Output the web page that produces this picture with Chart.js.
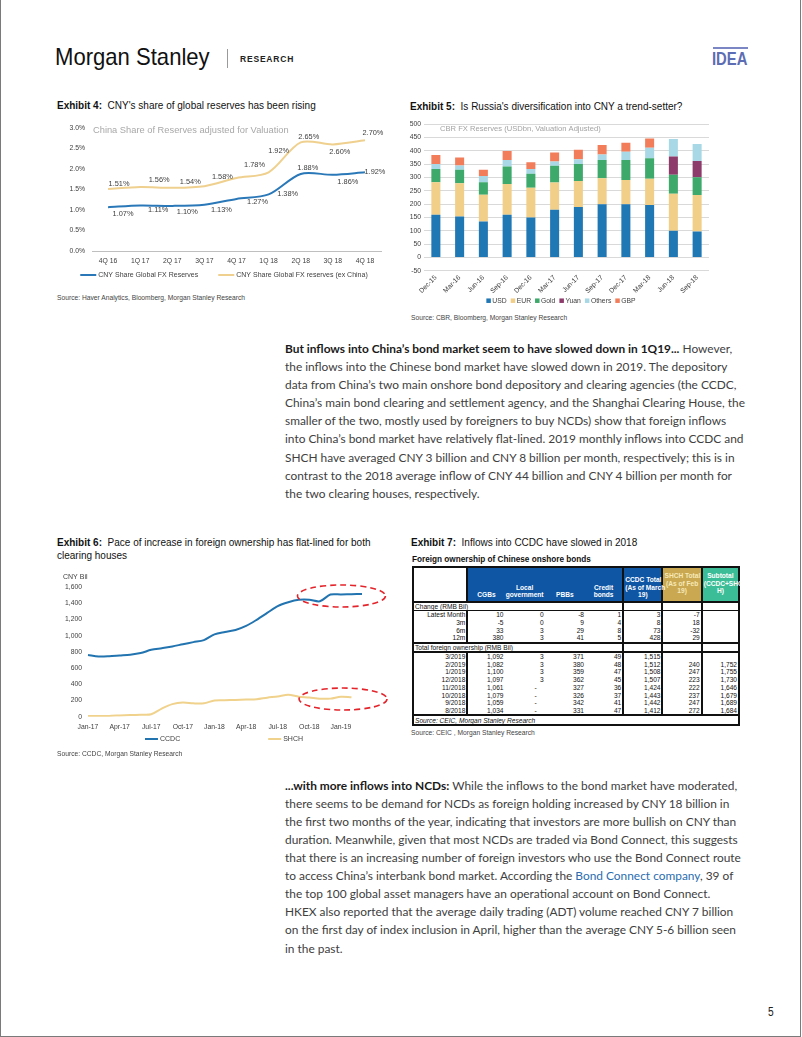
<!DOCTYPE html>
<html>
<head>
<meta charset="utf-8">
<script src="https://cdn.jsdelivr.net/npm/chart.js@4.4.1/dist/chart.umd.min.js"></script>
<style>
html,body{margin:0;padding:0;background:#fff;}
body{width:802px;height:1037px;position:relative;overflow:hidden;font-family:"Liberation Sans",Arial,Helvetica,sans-serif;color:#111;}
.frame{position:absolute;left:0;top:-2px;width:801px;height:1039px;border:1px solid #7a7a7a;border-top:none;box-sizing:border-box;}
.abs{position:absolute;}
.logo{left:55px;top:42px;font-family:"Liberation Sans",Arial,sans-serif;font-size:24px;color:#111;line-height:30px;white-space:nowrap;transform:scaleX(0.92);transform-origin:0 0;}
.sep{left:227px;top:49px;width:1px;height:19px;background:#9a9a9a;}
.research{left:240px;top:53px;font-size:8.5px;font-weight:bold;letter-spacing:0.8px;line-height:12px;color:#222;}
.ideabar{left:713px;top:47px;width:35px;height:2px;background:#7b86c4;}
.idea{left:712px;top:49px;font-family:"Liberation Sans",Arial,sans-serif;font-weight:bold;font-size:19px;line-height:20px;color:#5d6db3;transform:scaleX(0.78);transform-origin:0 0;}
.title{font-size:10px;line-height:13px;color:#111;white-space:nowrap;}
.title b{font-weight:bold;}
.src{font-size:6.7px;line-height:9px;color:#444;white-space:nowrap;}
.chart{position:absolute;}
.para{position:absolute;left:285px;font-family:Lato,"Open Sans",sans-serif;font-size:11.9px;line-height:18.1px;color:#404040;}
.para div{white-space:nowrap;height:18.1px;}
.para b{color:#1a1a1a;font-weight:bold;}
.link{color:#2a6db0;}
.pnum{left:768px;top:1005px;font-family:"Liberation Sans",Arial,sans-serif;font-size:12px;color:#222;transform:scaleX(0.85);transform-origin:0 0;}
#tblwrap{position:absolute;left:412px;top:566px;width:328px;}
#tbl{border-collapse:collapse;table-layout:fixed;width:328px;font-family:"Liberation Sans",Arial,sans-serif;font-size:6.6px;line-height:7px;color:#111;border:2px solid #111;}
#tbl td{padding:0 1px;white-space:nowrap;overflow:visible;}
#tbl td.num{text-align:right;}
#tbl td.lab{text-align:right;border-right:2px solid #111;}
#tbl td.vb{border-left:2px solid #111;}
#tbl tr.hdr td{height:31px;vertical-align:bottom;text-align:center;font-weight:bold;color:#fff;line-height:7.6px;padding-bottom:2px;}
#tbl tr.hdr td.blank{background:#fff;border-right:2px solid #111;}
#tbl tr.hdr td.blue{background:#0f56a5;}
#tbl tr.hdr td.gold{background:#c9a851;color:#f7e9b8;vertical-align:middle;}
#tbl tr.hdr td.teal{background:#3bbd97;vertical-align:middle;}
#tbl tr.hdr{border-bottom:2px solid #111;}
#tbl tr.sec td{height:6.5px;}
#tbl tr.sec.first{border-bottom:1px solid #111;}
#tbl tr.sec.second{border-top:2px solid #111;border-bottom:2px solid #111;}
#tbl tr.row td{height:7.7px;}
#tbl tr.srcrow td{border-top:2px solid #111;font-style:italic;height:8px;text-align:left;}
</style>
</head>
<body>
<div class="frame"></div>

<div class="abs logo">Morgan Stanley</div>
<div class="abs sep"></div>
<div class="abs research">RESEARCH</div>
<div class="abs ideabar"></div>
<div class="abs idea">IDEA</div>

<div class="abs title" style="left:57px;top:99px;"><b>Exhibit 4:</b>&nbsp; CNY's share of global reserves has been rising</div>
<div class="chart" style="left:57px;top:115px;width:335px;height:175px;"><canvas id="c4"></canvas></div>
<div class="abs src" style="left:57px;top:293px;">Source: Haver Analytics, Bloomberg, Morgan Stanley Research</div>

<div class="abs title" style="left:410px;top:100px;"><b>Exhibit 5:</b>&nbsp; Is Russia's diversification into CNY a trend-setter?</div>
<div class="chart" style="left:408px;top:115px;width:315px;height:195px;"><canvas id="c5"></canvas></div>
<div class="abs src" style="left:411px;top:313px;">Source: CBR, Bloomberg, Morgan Stanley Research</div>

<div class="para" style="top:340px;">
<div><b>But inflows into China’s bond market seem to have slowed down in 1Q19...</b> However,</div>
<div>the inflows into the Chinese bond market have slowed down in 2019. The depository</div>
<div>data from China’s two main onshore bond depository and clearing agencies (the CCDC,</div>
<div>China’s main bond clearing and settlement agency, and the Shanghai Clearing House, the</div>
<div>smaller of the two, mostly used by foreigners to buy NCDs) show that foreign inflows</div>
<div>into China’s bond market have relatively flat-lined. 2019 monthly inflows into CCDC and</div>
<div>SHCH have averaged CNY 3 billion and CNY 8 billion per month, respectively; this is in</div>
<div>contrast to the 2018 average inflow of CNY 44 billion and CNY 4 billion per month for</div>
<div>the two clearing houses, respectively.</div>
</div>

<div class="abs title" style="left:57px;top:536px;"><b>Exhibit 6:</b>&nbsp; Pace of increase in foreign ownership has flat-lined for both<br>clearing houses</div>
<div class="chart" style="left:57px;top:568px;width:340px;height:182px;"><canvas id="c6"></canvas></div>
<div class="abs src" style="left:57px;top:749px;">Source: CCDC, Morgan Stanley Research</div>

<div class="abs title" style="left:411px;top:536px;"><b>Exhibit 7:</b>&nbsp; Inflows into CCDC have slowed in 2018</div>
<div class="abs" style="left:412px;top:554px;font-size:8.2px;font-weight:bold;line-height:11px;color:#111;white-space:nowrap;">Foreign ownership of Chinese onshore bonds</div>
<div id="tblwrap"></div>
<div class="abs src" style="left:411px;top:728px;">Source: CEIC , Morgan Stanley Research</div>

<div class="para" style="top:776.7px;">
<div><b>...with more inflows into NCDs:</b> While the inflows to the bond market have moderated,</div>
<div>there seems to be demand for NCDs as foreign holding increased by CNY 18 billion in</div>
<div>the first two months of the year, indicating that investors are more bullish on CNY than</div>
<div>duration. Meanwhile, given that most NCDs are traded via Bond Connect, this suggests</div>
<div>that there is an increasing number of foreign investors who use the Bond Connect route</div>
<div>to access China’s interbank bond market. According the <span class="link">Bond Connect company</span>, 39 of</div>
<div>the top 100 global asset managers have an operational account on Bond Connect.</div>
<div>HKEX also reported that the average daily trading (ADT) volume reached CNY 7 billion</div>
<div>on the first day of index inclusion in April, higher than the average CNY 5-6 billion seen</div>
<div>in the past.</div>
</div>

<div class="abs pnum">5</div>

<script>
// ---------------- DATA ----------------
// Exhibit 4
const ex4Categories = ['4Q 16','1Q 17','2Q 17','3Q 17','4Q 17','1Q 18','2Q 18','3Q 18','4Q 18'];
const ex4SeriesNames = ['CNY Share Global FX Reserves','CNY Share Global FX reserves (ex China)'];
const ex4Global = [1.07,1.11,1.10,1.13,1.27,1.38,1.88,1.86,1.92];
const ex4ExChina = [1.51,1.56,1.54,1.58,1.78,1.92,2.65,2.60,2.70];
const ex4Note = 'China Share of Reserves adjusted for Valuation';

// Exhibit 5
const ex5Categories = ['Dec-15','Mar-16','Jun-16','Sep-16','Dec-16','Mar-17','Jun-17','Sep-17','Dec-17','Mar-18','Jun-18','Sep-18'];
const ex5SeriesNames = ['USD','EUR','Gold','Yuan','Others','GBP'];
const ex5USD    = [160,154,135,160,150,179,189,200,200,197,100, 97];
const ex5EUR    = [122,125,100,116,112,102, 98, 97, 91, 98,139,137];
const ex5Gold   = [ 50, 50, 47, 65, 52, 63, 64, 69, 75, 77, 71, 67];
const ex5Yuan   = [  0,  0,  0,  0,  0,  0,  0,  0,  0,  0, 69, 61];
const ex5Others = [ 19, 16, 24, 25, 18, 16, 18, 21, 31, 40, 66, 64];
const ex5GBP    = [ 34, 30, 23, 34, 25, 34, 35, 35, 34, 35,  0,  0];
const ex5Note = 'CBR FX Reserves (USDbn, Valuation Adjusted)';

// Exhibit 6
const ex6Months = ['Jan-17','Feb-17','Mar-17','Apr-17','May-17','Jun-17','Jul-17','Aug-17','Sep-17','Oct-17','Nov-17','Dec-17',
  'Jan-18','Feb-18','Mar-18','Apr-18','May-18','Jun-18','Jul-18','Aug-18','Sep-18','Oct-18','Nov-18','Dec-18',
  'Jan-19','Feb-19','Mar-19'];
const ex6SeriesNames = ['CCDC','SHCH'];
const ex6CCDC = [760,742,745,755,765,785,825,845,866,894,920,945,1015,1045,1070,1120,1195,1280,1365,1412,1442,1443,1424,1507,1508,1512,1515];
const ex6SHCH = [10,8,10,15,20,25,30,100,155,175,165,165,200,203,207,212,215,235,250,272,247,237,222,223,247,240];
const ex6AxisTitle = 'CNY Bil';

// Exhibit 7 (table)
const ex7Headers = [['CGBs'],['Local','government'],['PBBs'],['Credit','bonds'],['CCDC Total','(As of March','19)'],['SHCH Total','(As of Feb','19)'],['Subtotal','(CCDC+SHC','H)']];
const ex7ChangeTitle = 'Change (RMB Bil)';
const ex7ChangeRows = [
  ['Latest Month','10','0','-8','1','3','-7',''],
  ['3m','-5','0','9','4','8','18',''],
  ['6m','33','3','29','8','73','-32',''],
  ['12m','380','3','41','5','428','29','']
];
const ex7TotalTitle = 'Total foreign ownership (RMB Bil)';
const ex7TotalRows = [
  ['3/2019','1,092','3','371','49','1,515','',''],
  ['2/2019','1,082','3','380','48','1,512','240','1,752'],
  ['1/2019','1,100','3','359','47','1,508','247','1,755'],
  ['12/2018','1,097','3','362','45','1,507','223','1,730'],
  ['11/2018','1,061','-','327','36','1,424','222','1,646'],
  ['10/2018','1,079','-','326','37','1,443','237','1,679'],
  ['9/2018','1,059','-','342','41','1,442','247','1,689'],
  ['8/2018','1,034','-','331','47','1,412','272','1,684']
];
const ex7Source = 'Source: CEIC, Morgan Stanley Research';

// ---------------- PLUGINS ----------------
Chart.defaults.font.family = "'Liberation Sans', Arial, Helvetica, sans-serif";
Chart.defaults.color = '#404040';
Chart.defaults.animation = false;

const rowLegend = {
  id:'rowLegend',
  afterDraw(chart, args, o){
    if(!o || !o.display) return;
    const ctx = chart.ctx; ctx.save();
    ctx.font = o.font; ctx.textBaseline = 'middle'; ctx.textAlign='left';
    const items = chart.data.datasets.map(ds=>({label:ds.label, color: o.type==='line' ? ds.borderColor : ds.backgroundColor}));
    const widths = items.map(it=>o.swatch + o.swatchGap + ctx.measureText(it.label).width);
    const total = widths.reduce((a,b)=>a+b,0) + o.gap*(items.length-1);
    let x = o.centerX - total/2;
    items.forEach((it,i)=>{
      if(o.type==='line'){
        ctx.strokeStyle = it.color; ctx.lineWidth = o.lineWidth;
        ctx.beginPath(); ctx.moveTo(x, o.y); ctx.lineTo(x+o.swatch, o.y); ctx.stroke();
      } else {
        ctx.fillStyle = it.color; ctx.fillRect(x, o.y - o.swatch/2, o.swatch, o.swatch);
      }
      ctx.fillStyle = o.color;
      ctx.fillText(it.label, x + o.swatch + o.swatchGap, o.y);
      x += widths[i] + o.gap;
    });
    ctx.restore();
  }
};

const innerText = {
  id:'innerText',
  afterDraw(chart, args, o){
    if(!o || !o.items) return;
    const ctx = chart.ctx; ctx.save();
    o.items.forEach(it=>{
      ctx.font = it.font; ctx.fillStyle = it.color; ctx.textAlign = it.align || 'left'; ctx.textBaseline='middle';
      ctx.fillText(it.text, it.x, it.y);
    });
    ctx.restore();
  }
};

const pointLabels = {
  id:'pointLabels',
  afterDatasetsDraw(chart, args, o){
    if(!o || !o.offsets) return;
    const ctx = chart.ctx; ctx.save();
    ctx.font = o.font; ctx.fillStyle = o.color; ctx.textAlign='center'; ctx.textBaseline='middle';
    chart.data.datasets.forEach((ds,di)=>{
      const meta = chart.getDatasetMeta(di);
      meta.data.forEach((pt,i)=>{
        const off = o.offsets[di][i];
        ctx.fillText(ds.data[i].toFixed(2)+'%', pt.x+off[0], pt.y+off[1]);
      });
    });
    ctx.restore();
  }
};

const ellipses = {
  id:'ellipses',
  afterDraw(chart, args, o){
    if(!o || !o.items) return;
    const ctx = chart.ctx; ctx.save();
    ctx.strokeStyle = o.color; ctx.lineWidth = o.lineWidth; ctx.setLineDash(o.dash);
    o.items.forEach(e=>{
      const cx = chart.scales.x.getPixelForValue(e.x);
      const cy = chart.scales.y.getPixelForValue(e.y);
      ctx.beginPath(); ctx.ellipse(cx, cy, e.rx, e.ry, 0, 0, Math.PI*2); ctx.stroke();
    });
    ctx.restore();
  }
};

// ---------------- EXHIBIT 4 ----------------
new Chart(document.getElementById('c4'), {
  type:'line',
  data:{
    labels: ex4Categories,
    datasets:[
      {label: ex4SeriesNames[0], data: ex4Global, borderColor:'#2a78b8', backgroundColor:'#2a78b8', borderWidth:2, pointRadius:0, tension:0.3},
      {label: ex4SeriesNames[1], data: ex4ExChina, borderColor:'#efd08e', backgroundColor:'#efd08e', borderWidth:2, pointRadius:0, tension:0.3}
    ]
  },
  options:{
    responsive:true, maintainAspectRatio:false,
    layout:{autoPadding:false, padding:{left:0,right:11,top:13,bottom:0}},
    plugins:{
      legend:{display:false}, tooltip:{enabled:false},
      rowLegend:{display:true, type:'line', font:"7px 'Liberation Sans', Arial", color:'#404040', swatch:16, swatchGap:2, gap:20, lineWidth:2, y:160, centerX:167},
      innerText:{items:[{text: ex4Note, x:36, y:15, font:"9.3px 'Liberation Sans', Arial", color:'#a8a8a8'}]},
      pointLabels:{font:"7.4px 'Liberation Sans', Arial", color:'#404040', offsets:[
        [[15,7],[18,4],[15,6],[17,5],[21,3],[19,0],[7,-6],[15,7],[10,0]],
        [[11,-5],[19,-7],[18,-6],[18,-9],[18,-13],[10,-21],[8,-5],[7,8],[8,-7]]
      ]}
    },
    scales:{
      x:{offset:true, grid:{display:false, drawTicks:false}, border:{display:true, color:'#bfbfbf', width:1},
         ticks:{font:{size:6.8}, color:'#404040', padding:6, maxRotation:0, autoSkip:false},
         afterFit(s){ s.height = 39; }},
      y:{min:0, max:3, grid:{display:false, drawTicks:false}, border:{display:false},
         ticks:{stepSize:0.5, font:{size:6.8}, color:'#404040', padding:7, callback:v=>v.toFixed(1)+'%'},
         afterFit(s){ s.width = 35; }}
    }
  },
  plugins:[rowLegend, innerText, pointLabels]
});

// ---------------- EXHIBIT 5 ----------------
const ex5Colors = ['#1f77b4','#f1cf88','#3da96b','#8c3b6b','#a8d8e6','#f27d5b'];
const ex5Values = [ex5USD, ex5EUR, ex5Gold, ex5Yuan, ex5Others, ex5GBP];
new Chart(document.getElementById('c5'), {
  type:'bar',
  data:{
    labels: ex5Categories,
    datasets: ex5SeriesNames.map((n,i)=>({label:n, data:ex5Values[i], backgroundColor:ex5Colors[i], borderWidth:0, categoryPercentage:1, barPercentage:0.38}))
  },
  options:{
    responsive:true, maintainAspectRatio:false,
    layout:{autoPadding:false, padding:{left:0,right:14,top:9.3,bottom:0}},
    plugins:{
      legend:{display:false}, tooltip:{enabled:false},
      rowLegend:{display:true, type:'box', font:"6.8px 'Liberation Sans', Arial", color:'#404040', swatch:4.5, swatchGap:1.5, gap:4, y:185.7, centerX:153},
      innerText:{items:[{text: ex5Note, x:32, y:14, font:"7.6px 'Liberation Sans', Arial", color:'#a3a3a3'}]}
    },
    scales:{
      x:{stacked:true, grid:{display:false, drawTicks:false}, border:{display:false},
         ticks:{font:{size:6.8}, color:'#404040', padding:3, minRotation:45, maxRotation:45, autoSkip:false},
         afterFit(s){ s.height = 39.3; }},
      y:{stacked:true, min:-50, max:500, grid:{color:'#d9d9d9', lineWidth:1, drawTicks:false}, border:{display:false},
         ticks:{stepSize:50, font:{size:6.8}, color:'#404040', padding:3},
         afterFit(s){ s.width = 16; }}
    }
  },
  plugins:[rowLegend, innerText]
});

// ---------------- EXHIBIT 6 ----------------
new Chart(document.getElementById('c6'), {
  type:'line',
  data:{
    labels: ex6Months,
    datasets:[
      {label: ex6SeriesNames[0], data: ex6CCDC, borderColor:'#2274b0', backgroundColor:'#2274b0', borderWidth:2, pointRadius:0, tension:0.3},
      {label: ex6SeriesNames[1], data: ex6SHCH, borderColor:'#f0d28c', backgroundColor:'#f0d28c', borderWidth:2, pointRadius:0, tension:0.3}
    ]
  },
  options:{
    responsive:true, maintainAspectRatio:false,
    layout:{autoPadding:false, padding:{left:0,right:35,top:19,bottom:0}},
    plugins:{
      legend:{display:false}, tooltip:{enabled:false},
      rowLegend:{display:true, type:'line', font:"7px 'Liberation Sans', Arial", color:'#404040', swatch:13, swatchGap:2, gap:88, lineWidth:2, y:171, centerX:167},
      innerText:{items:[{text: ex6AxisTitle, x:6, y:9, font:"7px 'Liberation Sans', Arial", color:'#404040'}]},
      ellipses:{color:'#e3242b', lineWidth:1.6, dash:[6,4], items:[{x:24.05, y:1489, rx:44, ry:11},{x:24.2, y:218, rx:44, ry:11}]}
    },
    scales:{
      x:{grid:{display:false, drawTicks:false}, border:{display:false},
         ticks:{font:{size:6.8}, color:'#404040', padding:6, maxRotation:0, autoSkip:false,
                callback(v,i){ return i%3===0 ? this.getLabelForValue(v) : ''; }},
         afterFit(s){ s.height = 33.3; }},
      y:{min:0, max:1600, grid:{display:false, drawTicks:false}, border:{display:false},
         ticks:{stepSize:200, font:{size:6.8}, color:'#404040', padding:6, callback:v=>v.toLocaleString('en-US')},
         afterFit(s){ s.width = 31; }}
    }
  },
  plugins:[rowLegend, innerText, ellipses]
});

// ---------------- EXHIBIT 7 TABLE ----------------
(function(){
  const colW = [54,37,40,40,38,39,39,37];
  let h = '<table id="tbl"><colgroup>' + colW.map(w=>'<col style="width:'+w+'px">').join('') + '</colgroup>';
  h += '<tr class="hdr"><td class="blank"></td>';
  ex7Headers.forEach((lines,i)=>{
    let cls = i<5 ? 'blue' : (i===5 ? 'gold' : 'teal');
    let extra = i===4 ? ' style="border-left:2px solid #111;border-right:2px solid #111;"' : (i===5 ? ' style="border-right:2px solid #111;"' : '');
    h += '<td class="'+cls+'"'+extra+'>'+lines.join('<br>')+'</td>';
  });
  h += '</tr>';
  const secRow = (t,cls)=>'<tr class="sec '+cls+'"><td colspan="5" style="text-align:left;">'+t+'</td><td class="vb"></td><td class="vb"></td><td class="vb"></td></tr>';
  const dataRow = r=>'<tr class="row"><td class="lab">'+r[0]+'</td>' + r.slice(1).map((v,i)=>{
      let cls='num' + (i>=4 ? ' vb' : '');
      let st = v==='-' ? ' style="padding-right:8px;"' : '';
      return '<td class="'+cls+'"'+st+'>'+v+'</td>';
    }).join('') + '</tr>';
  h += secRow(ex7ChangeTitle,'first');
  ex7ChangeRows.forEach(r=>{ h += dataRow(r); });
  h += secRow(ex7TotalTitle,'second');
  ex7TotalRows.forEach(r=>{ h += dataRow(r); });
  h += '<tr class="srcrow"><td colspan="8">'+ex7Source+'</td></tr>';
  h += '</table>';
  document.getElementById('tblwrap').innerHTML = h;
})();
</script>
</body>
</html>
